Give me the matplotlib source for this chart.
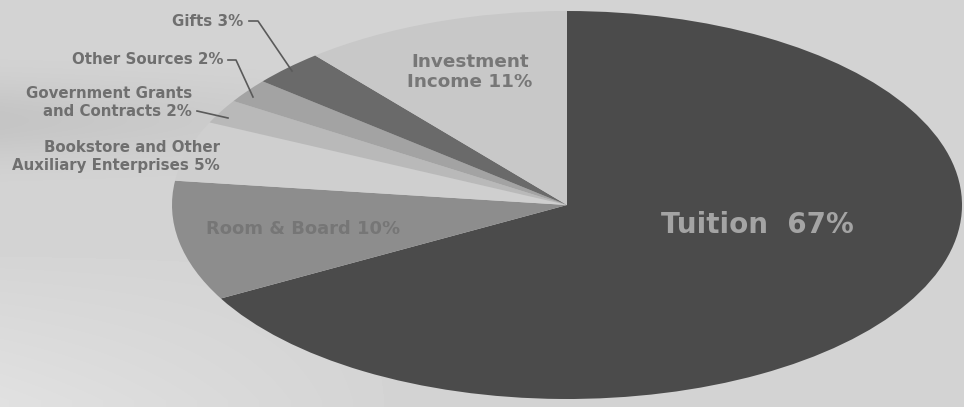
import numpy as np
import matplotlib.pyplot as plt

plt.rcParams['font.family'] = ['DejaVu Sans']

# revenue sources, clockwise from 12 o'clock
sources = ['Tuition', 'Room & Board', 'Bookstore and Other\nAuxiliary Enterprises',
           'Government Grants\nand Contracts', 'Other Sources', 'Gifts',
           'Investment\nIncome']
shares = [67, 10, 5, 2, 2, 3, 11]
shades = ['#4b4b4b', '#8d8d8d', '#cfcfcf', '#b9b9b9', '#a3a3a3', '#6a6a6a', '#c8c8c8']

W, H = 964, 407
cx, cy = 567, 205          # pie centre in pixels
rx, ry = 395, 194          # ellipse half-axes in pixels

fig = plt.figure(figsize=(W / 100, H / 100), dpi=100)
fig.patch.set_facecolor('#d3d3d3')
ax = fig.add_axes([0, 0, 1, 1])
ax.set_facecolor('#d3d3d3')

# soft grey backdrop, a little darker in the upper band
yy, xx = np.mgrid[0:H, 0:W]
bg = 0.83 - 0.06 * np.exp(-((yy - 120) / 40.0) ** 2) * np.clip(1 - xx / 500, 0, 1) \
     + 0.05 * np.clip((yy - 250) / 150, 0, 1) * np.clip(1 - xx / 400, 0, 1)
ax.imshow(bg, cmap='gray', vmin=0, vmax=1,
          extent=(-cx / rx, (W - cx) / rx, -(H - cy) / ry, cy / ry),
          aspect='auto', zorder=0)

# unit circle stretched into an ellipse by the axis limits
ax.pie(shares, colors=shades, startangle=90, counterclock=False, radius=1,
       wedgeprops=dict(linewidth=0, zorder=1))
ax.set_aspect('auto')
ax.set_xlim(-cx / rx, (W - cx) / rx)
ax.set_ylim(-(H - cy) / ry, cy / ry)
ax.axis('off')


def px(x, y):
    return (x - cx) / rx, (cy - y) / ry


lbl = [f'{s} {v}%' for s, v in zip(sources, shares)]
small = dict(fontsize=10.8, fontweight='bold', color='#6f6f6f', linespacing=1.25)

ax.text(*px(757, 225), f'{sources[0]}  {shares[0]}%', fontsize=20,
        fontweight='bold', color='#a4a4a4', ha='center', va='center')
ax.text(*px(303, 229), lbl[1], fontsize=13, fontweight='bold',
        color='#767676', ha='center', va='center')
ax.text(*px(470, 72), lbl[6], fontsize=13.2, fontweight='bold',
        color='#777777', ha='center', va='center', linespacing=1.2)
ax.text(*px(220, 157), lbl[2], ha='right', va='center', **small)
ax.text(*px(192, 103), lbl[3], ha='right', va='center', **small)
ax.text(*px(223, 60), lbl[4], ha='right', va='center', **small)
ax.text(*px(243, 22), lbl[5], ha='right', va='center', **small)

# leader lines
lead = dict(color='#5a5a5a', linewidth=1.2, zorder=3)
for pts in ([(249, 21), (258, 21), (292, 71)],
            [(228, 60), (236, 60), (253, 97)],
            [(197, 111), (228, 118)]):
    xs, ys = zip(*[px(x, y) for x, y in pts])
    ax.plot(xs, ys, **lead)

fig.savefig('out.png', dpi=100, facecolor=fig.get_facecolor())
